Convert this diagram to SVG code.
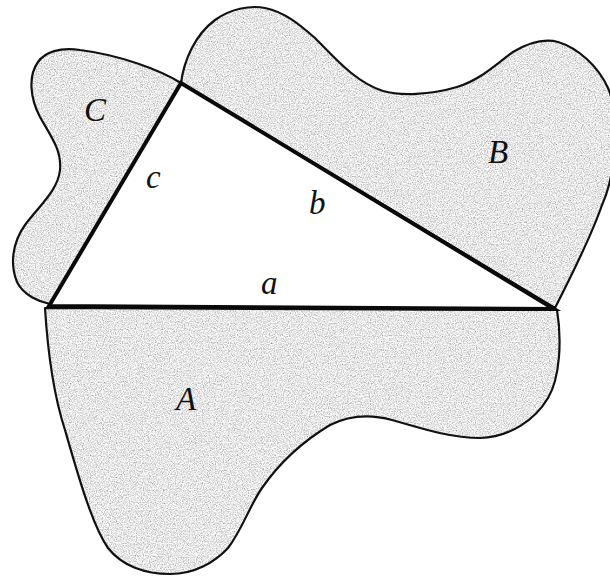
<svg xmlns="http://www.w3.org/2000/svg" width="610" height="576" viewBox="0 0 610 576">
<style>
.fill{fill:#000;filter:url(#grain)}
.edge{fill:none;stroke:#111;stroke-width:2.2;stroke-linejoin:round}
.tri{fill:#fff;stroke:#0a0a0a;stroke-width:4;stroke-linejoin:miter}
.lbl{font-family:"Liberation Serif","Times New Roman",serif;font-style:italic;font-size:33px;fill:#111}
</style>
<defs>
<filter id="grain" x="0" y="0" width="1" height="1">
<feTurbulence type="fractalNoise" baseFrequency="0.85" numOctaves="2" seed="4" result="n"/>
<feColorMatrix in="n" type="saturate" values="0" result="g"/>
<feComponentTransfer in="g" result="t">
<feFuncR type="linear" slope="1.6" intercept="0.0"/>
<feFuncG type="linear" slope="1.6" intercept="0.0"/>
<feFuncB type="linear" slope="1.6" intercept="0.0"/>
<feFuncA type="linear" slope="0" intercept="1"/>
</feComponentTransfer>
<feComposite in="t" in2="SourceGraphic" operator="in"/>
</filter>
<path id="pA" d="M557,310 L45,308 C47,340 52,390 65,430 C78,475 92,525 108,548 C122,566 145,574 170,574 C195,574 215,562 228,548 C242,530 250,505 262,488 C280,462 305,440 330,425 C348,416 370,414 392,420 C420,428 450,438 480,438 C510,437 535,420 548,398 C560,378 562,340 557,310 Z"/>
<path id="pB" d="M181,83 C184,60 195,35 215,20 C230,9 250,5 265,8 C285,12 300,25 315,38 C335,58 355,82 383,91 C400,96 430,95 457,87 C480,80 495,65 513,52 C528,43 543,38 558,42 C578,48 598,66 608,88 C618,110 618,170 602,205 C590,240 568,282 555,308 Z"/>
<path id="pC" d="M181,83 C160,70 120,55 80,50 C60,47 45,52 38,62 C28,76 30,98 40,117 C50,135 62,150 60,170 C58,190 40,205 25,225 C12,243 10,265 17,282 C24,296 40,302 50,304 Z"/>
</defs>
<rect width="610" height="576" fill="#fff"/>
<g id="region-A">
<use href="#pA" class="fill"/>
<use href="#pA" class="edge"/>
</g>
<g id="region-B">
<use href="#pB" class="fill"/>
<use href="#pB" class="edge"/>
</g>
<g id="region-C">
<use href="#pC" class="fill"/>
<use href="#pC" class="edge"/>
</g>
<g id="triangle">
<polygon class="tri" points="49,306 181,83 554,309"/>
</g>
<g id="labels">
<text class="lbl" x="84" y="121">C</text>
<text class="lbl" x="146" y="188">c</text>
<text class="lbl" x="309" y="214">b</text>
<text class="lbl" x="261" y="294">a</text>
<text class="lbl" x="488" y="163">B</text>
<text class="lbl" x="176" y="410">A</text>
</g>
</svg>
